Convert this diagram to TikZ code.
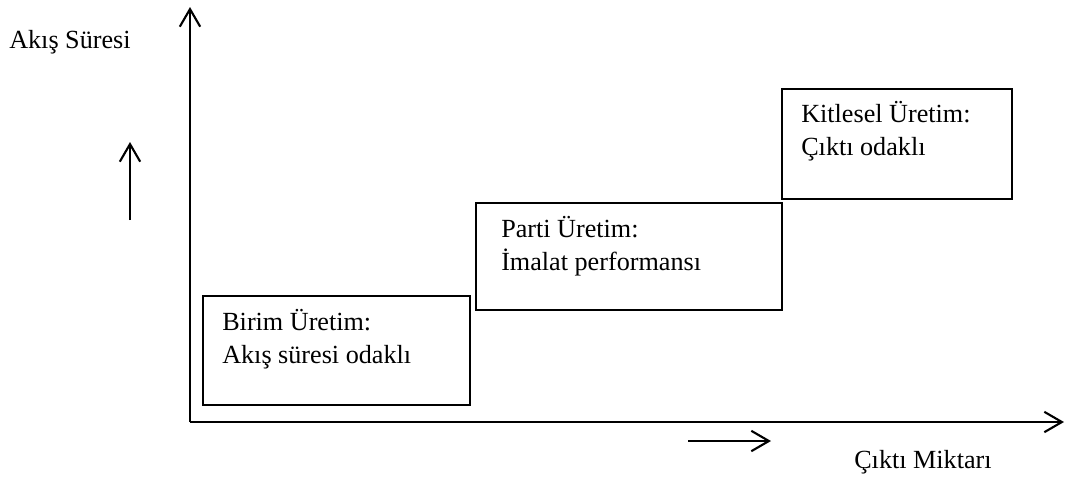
\documentclass[tikz,border=0pt]{standalone}
\usepackage{fontspec}
\setmainfont{Liberation Serif}
\usetikzlibrary{arrows.meta,positioning}

\begin{document}
\begin{tikzpicture}[
  x=0.025cm, y=-0.025cm,
  every node/.style={font=\fontsize{18.6}{23.3}\selectfont},
  axisline/.style={draw, line width=1.5pt, -{Straight Barb[length=12.5pt, width=14.5pt, line width=1.5pt]}},
  stagebox/.style={draw, line width=1.2pt, rectangle, inner sep=0pt, anchor=north west},
  stagetext/.style={anchor=north west, align=left, inner sep=0pt},
  axistext/.style={anchor=base west, inner sep=0pt}
]
\useasboundingbox (0,0) rectangle (1067,483);

% axes
\coordinate (origin) at (190,422);
\coordinate (ytop) at (190,7);
\coordinate (xend) at (1064,422);
\draw[axisline] (origin) -- (ytop);
\draw[axisline] (origin) -- (xend);

% direction arrows
\coordinate (upfrom) at (130,220);
\coordinate (upto) at (130,142);
\coordinate (rightfrom) at (688,441);
\coordinate (rightto) at (771,441);
\draw[axisline] (upfrom) -- (upto);
\draw[axisline] (rightfrom) -- (rightto);

% axis labels
\node[axistext] (akis) at (9,48) {Akış Süresi};
\node[axistext] (cikti) at (854,468) {Çıktı Miktarı};

% production stages
\node[stagebox, minimum width=267*0.025cm, minimum height=109*0.025cm] (birim) at (202,295) {};
\node[stagebox, minimum width=306*0.025cm, minimum height=107*0.025cm] (parti) at (475,202) {};
\node[stagebox, minimum width=230*0.025cm, minimum height=110*0.025cm] (kitle) at (781,88) {};

\node[stagetext, xshift=20*0.025cm, yshift=-14*0.025cm] (birimtext) at (birim.north west) {Birim Üretim:\\Akış süresi odaklı};
\node[stagetext, xshift=26*0.025cm, yshift=-14*0.025cm] (partitext) at (parti.north west) {Parti Üretim:\\İmalat performansı};
\node[stagetext, xshift=20*0.025cm, yshift=-13*0.025cm] (kitletext) at (kitle.north west) {Kitlesel Üretim:\\Çıktı odaklı};
\end{tikzpicture}
\end{document}
